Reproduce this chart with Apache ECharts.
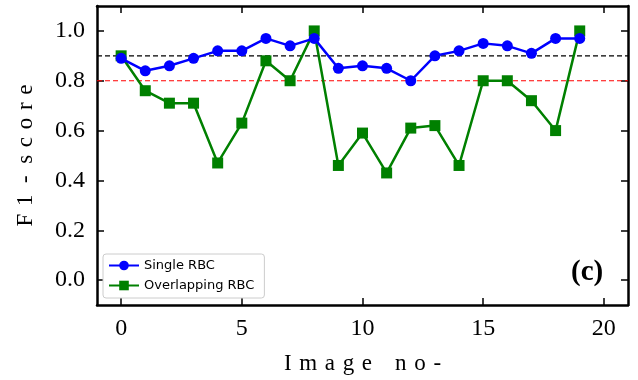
<!DOCTYPE html>
<html>
<head>
<meta charset="utf-8">
<script src="https://cdn.jsdelivr.net/npm/echarts@6/dist/echarts.min.js"></script>
<style>
  html, body { margin: 0; padding: 0; background: #fff; }
  #chart { width: 638px; height: 380px; }
</style>
</head>
<body>
<div id="chart"></div>
<script>
// Image index on the x axis
const imageNo = [0, 1, 2, 3, 4, 5, 6, 7, 8, 9, 10, 11, 12, 13, 14, 15, 16, 17, 18, 19];
// F1-scores per image
const singleRBC = [0.89, 0.84, 0.86, 0.89, 0.92, 0.92, 0.97, 0.94, 0.97, 0.85,
                   0.86, 0.85, 0.80, 0.90, 0.92, 0.95, 0.94, 0.91, 0.97, 0.97];
const overlappingRBC = [0.90, 0.76, 0.71, 0.71, 0.47, 0.63, 0.88, 0.80, 1.00, 0.46,
                        0.59, 0.43, 0.61, 0.62, 0.46, 0.80, 0.80, 0.72, 0.60, 1.00];
// Reference thresholds, drawn across the whole x range
const upperThreshold = 0.9;
const lowerThreshold = 0.8;
const xRange = [-1, 21];
// Tick positions
const xTicks = [0, 5, 10, 15, 20];
const yTicks = [0, 0.2, 0.4, 0.6, 0.8, 1.0];

// Letter-spaced axis titles
const spaced = (s, wordGap) => s.split(' ').map(w => w.split('').join('\u2004')).join(wordGap);

const serif = 'Liberation Serif';
const chart = echarts.init(document.getElementById('chart'));

const tickCommon = { show: true, inside: true, length: 7, lineStyle: { color: '#000', width: 1.5 } };
const lineCommon = { show: true, onZero: false, lineStyle: { color: '#000', width: 2.5 } };

chart.setOption({
  animation: false,
  backgroundColor: '#fff',
  grid: { left: 97, top: 6, width: 531, height: 299 },
  legend: {
    left: 103, top: 254, orient: 'vertical',
    borderColor: '#cccccc', borderWidth: 1, borderRadius: 3,
    padding: [5, 10, 6, 5], itemGap: 7, itemWidth: 30, itemHeight: 12,
    backgroundColor: '#fff',
    textStyle: { fontFamily: 'DejaVu Sans', fontSize: 13, color: '#000' },
    data: ['Single RBC', 'Overlapping RBC']
  },
  xAxis: [
    {
      type: 'value', min: xRange[0], max: xRange[1], interval: 1,
      name: spaced('Image no-', '\u2003'), nameLocation: 'middle', nameGap: 47,
      nameTextStyle: { fontFamily: serif, fontSize: 23, color: '#000' },
      axisLine: lineCommon,
      axisTick: Object.assign({}, tickCommon, { customValues: xTicks }),
      axisLabel: { customValues: xTicks, fontFamily: serif, fontSize: 24, color: '#000', margin: 12 },
      splitLine: { show: false }
    },
    {
      type: 'value', position: 'top', min: xRange[0], max: xRange[1], interval: 1,
      axisLine: lineCommon,
      axisTick: Object.assign({}, tickCommon, { customValues: xTicks }),
      axisLabel: { show: false },
      splitLine: { show: false }
    }
  ],
  yAxis: [
    {
      type: 'value', min: -0.1, max: 1.1,
      name: spaced('F1 - score', '\u2002'), nameLocation: 'middle', nameGap: 60,
      nameTextStyle: { fontFamily: serif, fontSize: 23, color: '#000' },
      axisLine: lineCommon,
      axisTick: Object.assign({}, tickCommon, { customValues: yTicks }),
      axisLabel: {
        customValues: yTicks,
        formatter: v => v.toFixed(1),
        fontFamily: serif, fontSize: 24, color: '#000', margin: 12
      },
      splitLine: { show: false }
    },
    {
      type: 'value', position: 'right', min: -0.1, max: 1.1,
      axisLine: lineCommon,
      axisTick: Object.assign({}, tickCommon, { customValues: yTicks }),
      axisLabel: { show: false },
      splitLine: { show: false }
    }
  ],
  series: [
    {
      name: 'upper', type: 'line', silent: true, symbol: 'none',
      data: xRange.map(x => [x, upperThreshold]),
      lineStyle: { color: '#000000', type: [5, 3], width: 1.2 },
      z: 1
    },
    {
      name: 'lower', type: 'line', silent: true, symbol: 'none',
      data: xRange.map(x => [x, lowerThreshold]),
      lineStyle: { color: '#ff0000', type: [5, 3], width: 1.2 },
      z: 1
    },
    {
      name: 'Single RBC', type: 'line',
      data: imageNo.map((x, i) => [x, singleRBC[i]]),
      symbol: 'circle', symbolSize: 11,
      itemStyle: { color: '#0000ff' },
      lineStyle: { color: '#0000ff', width: 2.5 },
      z: 4
    },
    {
      name: 'Overlapping RBC', type: 'line',
      data: imageNo.map((x, i) => [x, overlappingRBC[i]]),
      symbol: 'rect', symbolSize: 11,
      itemStyle: { color: '#008000' },
      lineStyle: { color: '#008000', width: 2.5 },
      z: 3
    }
  ],
  graphic: [
    {
      type: 'text', left: 571, top: 258,
      style: { text: '(c)', font: 'bold 29px "Liberation Serif"', fill: '#000' }
    }
  ]
});
</script>
</body>
</html>
